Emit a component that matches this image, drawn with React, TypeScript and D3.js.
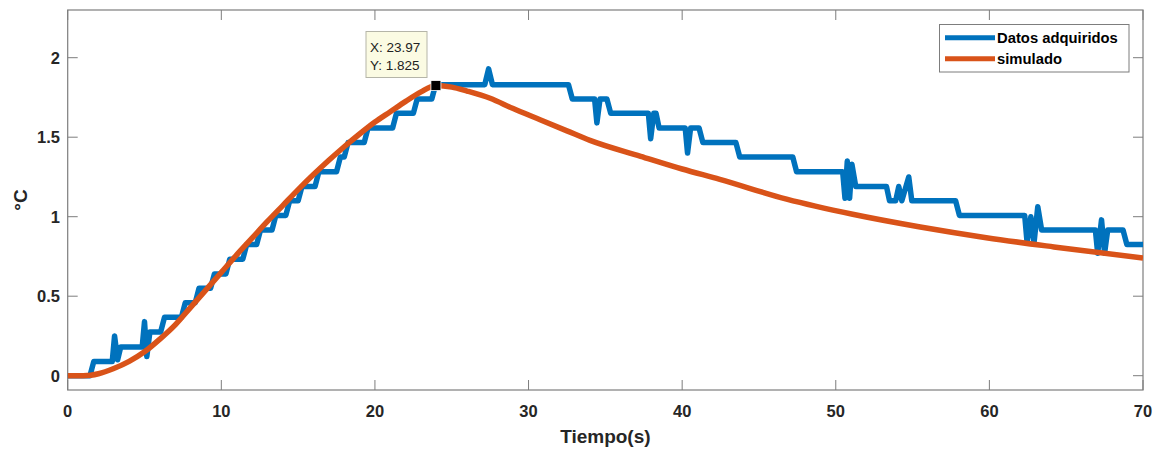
import React from "react";
import * as d3 from "d3";

// ---- data ----
const xTicks = [0, 10, 20, 30, 40, 50, 60, 70];
const yTicks = [0, 0.5, 1, 1.5, 2];
const yTickLabels = ["0", "0.5", "1", "1.5", "2"];

const blueTime = [
  0, 1.45, 1.7, 2.9, 3.05, 3.25, 3.45, 4.85, 5.0, 5.15, 5.35, 6.05, 6.3, 7.4, 7.65, 8.3, 8.55, 9.3, 9.55,
  10.3, 10.55, 11.4, 11.65, 12.3, 12.55, 13.3, 13.55, 14.2, 14.45, 15.0, 15.25, 16.1, 16.35, 17.5, 17.75,
  18.0, 18.25, 19.3, 19.55, 21.15, 21.4, 22.5, 22.75, 23.7, 23.95,
  27.15, 27.4, 27.65, 32.6, 32.85, 34.3, 34.45, 34.65, 35.1, 35.35, 37.8, 37.95, 38.15, 38.3, 38.5,
  40.2, 40.35, 40.55, 41.1, 41.35, 43.5, 43.75, 47.2, 47.45, 50.45, 50.6, 50.75, 50.9, 51.05, 51.3,
  53.3, 53.5, 53.9, 54.1, 54.3, 54.75, 54.95, 57.8, 58.05, 62.3, 62.45, 62.7, 62.9, 63.15, 63.4,
  66.9, 67.05, 67.3, 67.5, 67.7, 68.7, 68.95, 70,
];
const blueTemp = [
  0, 0, 0.09, 0.09, 0.25, 0.1, 0.18, 0.18, 0.34, 0.12, 0.275, 0.275, 0.367, 0.367, 0.458, 0.458, 0.55, 0.55, 0.64,
  0.64, 0.733, 0.733, 0.825, 0.825, 0.916, 0.916, 1.008, 1.008, 1.1, 1.1, 1.19, 1.19, 1.283, 1.283, 1.375,
  1.375, 1.466, 1.466, 1.558, 1.558, 1.65, 1.65, 1.74, 1.74, 1.83,
  1.83, 1.93, 1.83, 1.83, 1.74, 1.74, 1.59, 1.74, 1.74, 1.65, 1.65, 1.49, 1.65, 1.65, 1.558,
  1.558, 1.4, 1.558, 1.558, 1.466, 1.466, 1.375, 1.375, 1.283, 1.283, 1.116, 1.35, 1.116, 1.33, 1.19,
  1.19, 1.1, 1.1, 1.19, 1.1, 1.25, 1.1, 1.1, 1.008, 1.008, 0.843, 1.0, 0.83, 1.063, 0.916,
  0.916, 0.77, 0.98, 0.77, 0.916, 0.916, 0.825, 0.825,
];

const simTime = [
  0, 1.0, 1.5, 2.0, 3.0, 4.0, 5.0, 6.0, 7.0, 8.0, 9.0, 10.0, 11.0, 12.0, 13.0, 14.0, 15.0, 16.0, 17.0,
  18.0, 19.0, 20.0, 21.0, 22.0, 23.0, 23.97, 25.0, 26.0, 27.5, 29.0, 30.75, 32.5, 34.0, 37.3, 40.0,
  42.45, 46.8, 51.1, 55.5, 59.8, 64.2, 70,
];
const simTemp = [
  0, 0, 0.003, 0.012, 0.045, 0.09, 0.15, 0.23, 0.32, 0.43, 0.54, 0.65, 0.76, 0.865, 0.97, 1.07, 1.17, 1.265, 1.355,
  1.44, 1.52, 1.595, 1.66, 1.725, 1.785, 1.825, 1.815, 1.79, 1.745, 1.68, 1.61, 1.54, 1.48, 1.38, 1.3,
  1.235, 1.11, 1.015, 0.935, 0.868, 0.81, 0.74,
];

const seriesNames = ["Datos adquiridos", "simulado"];
const tipX = 23.97;
const tipY = 1.825;

// ---- layout ----
const W = 1155;
const H = 450;
const L = 67.7, R = 1143, T = 10, B = 390;
const FONT = "'Liberation Sans', Arial, Helvetica, sans-serif";
const BLUE = "#0072BD";
const RED = "#D95319";
const AXIS = "#7d7d7d";
const TXT = "#262626";

export default function App() {
  const x = d3.scaleLinear().domain([0, 70]).range([L, R]);
  const y = d3.scaleLinear().domain([-0.09, 2.3]).range([B, T]);

  const mk = (ts: number[], vs: number[], curve: d3.CurveFactory) =>
    d3
      .line<number>()
      .curve(curve)
      .x((t) => x(t))
      .y((_, i) => y(vs[i]))(ts) as string;

  const bluePath = mk(blueTime, blueTemp, d3.curveLinear);
  const redPath = mk(simTime, simTemp, d3.curveMonotoneX);

  const tick = 10;
  const px = x(tipX);
  const py = y(tipY);

  return (
    <svg
      width={W}
      height={H}
      style={{ position: "absolute", left: 0, top: 0, background: "#fff" }}
      fontFamily={FONT}
    >
      <defs>
        <clipPath id="plot">
          <rect x={L} y={T} width={R - L} height={B - T} />
        </clipPath>
      </defs>
      <rect x={0} y={0} width={W} height={H} fill="#fff" />

      {/* ticks */}
      {xTicks.map((t) => (
        <g key={"xt" + t}>
          <line x1={x(t)} x2={x(t)} y1={B} y2={B - tick} stroke={AXIS} strokeWidth={1} />
          <line x1={x(t)} x2={x(t)} y1={T} y2={T + tick} stroke={AXIS} strokeWidth={1} />
          <text x={x(t)} y={416.5} textAnchor="middle" fontSize={16.5} fontWeight="bold" fill={TXT}>
            {t}
          </text>
        </g>
      ))}
      {yTicks.map((v, i) => (
        <g key={"yt" + v}>
          <line x1={L} x2={L + tick} y1={y(v)} y2={y(v)} stroke={AXIS} strokeWidth={1} />
          <line x1={R} x2={R - tick} y1={y(v)} y2={y(v)} stroke={AXIS} strokeWidth={1} />
          <text x={60} y={y(v) + 6} textAnchor="end" fontSize={16.5} fontWeight="bold" fill={TXT}>
            {yTickLabels[i]}
          </text>
        </g>
      ))}

      {/* box */}
      <rect x={L} y={T} width={R - L} height={B - T} fill="none" stroke={AXIS} strokeWidth={1.2} />

      {/* series */}
      <g clipPath="url(#plot)">
        <path d={bluePath} fill="none" stroke={BLUE} strokeWidth={5.5} strokeLinejoin="round" />
        <path d={redPath} fill="none" stroke={RED} strokeWidth={5.5} strokeLinejoin="round" />
      </g>

      {/* datatip */}
      <rect x={366} y={31.5} width={61} height={46} fill="#fbfbe3" stroke="#b5b5a8" strokeWidth={1} />
      <text x={370} y={51.5} fontSize={13.5} fill="#222">X: {tipX}</text>
      <text x={370} y={69.5} fontSize={13.5} fill="#222">Y: {tipY}</text>
      <rect x={px - 5} y={py - 5} width={10} height={10} fill="#000" stroke="#fff" strokeWidth={0.8} />

      {/* legend */}
      <rect x={939.5} y={24.5} width={189.5} height={47.5} fill="#fff" stroke={AXIS} strokeWidth={1} />
      <line x1={945} x2={995} y1={37.7} y2={37.7} stroke={BLUE} strokeWidth={5} />
      <line x1={945} x2={995} y1={58.7} y2={58.7} stroke={RED} strokeWidth={5} />
      <text x={997} y={43} fontSize={14.8} fontWeight="bold" fill="#000">{seriesNames[0]}</text>
      <text x={997} y={64} fontSize={14.8} fontWeight="bold" fill="#000">{seriesNames[1]}</text>

      {/* axis labels */}
      <text x={(L + R) / 2} y={442.5} textAnchor="middle" fontSize={19} fontWeight="bold" fill={TXT}>
        Tiempo(s)
      </text>
      <text
        transform={`translate(26.5, 200) rotate(-90)`}
        textAnchor="middle"
        fontSize={19}
        fontWeight="bold"
        fill={TXT}
      >
        °C
      </text>
    </svg>
  );
}
